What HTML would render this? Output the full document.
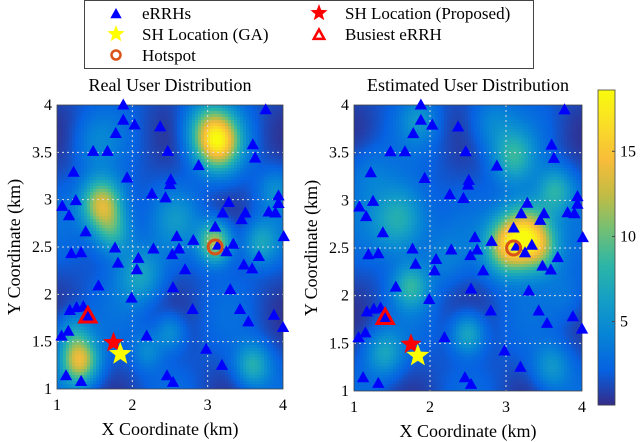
<!DOCTYPE html>
<html><head><meta charset="utf-8"><style>
body{margin:0;background:#fff;width:640px;height:442px;overflow:hidden;font-family:"Liberation Serif",serif}
svg{position:absolute;left:0;top:0}
</style></head><body>
<svg id="s" width="640" height="442" xmlns="http://www.w3.org/2000/svg"></svg>
<script>
// eRRH positions (km)
const rrhX=[1.88,1.88,2.03,2.37,1.78,3.77,1.48,1.67,2.47,3.6,3.63,2.88,1.22,1.93,2.51,2.5,2.26,2.44,3.94,1.07,1.25,3.28,3.94,1.16,3.2,3.5,3.81,3.9,3.45,3.1,1.38,2.59,2.81,4.01,3.14,3.34,1.77,2.28,2.62,2.53,3.25,1.19,1.32,1.81,2.08,2.06,2.7,3.48,3.59,3.68,1.55,2.54,3.3,1.99,1.17,1.26,1.35,1.41,2.8,3.43,3.54,3.88,4.0,1.06,1.15,2.19,2.98,3.19,2.46,2.54,1.12,1.32];
const rrhY=[4.0,3.84,3.79,3.77,3.7,3.95,3.51,3.51,3.51,3.58,3.44,3.36,3.29,3.23,3.21,3.16,3.06,3.02,3.04,2.93,2.99,2.97,2.96,2.83,2.86,2.86,2.87,2.86,2.79,2.71,2.66,2.61,2.57,2.61,2.52,2.53,2.49,2.48,2.48,2.42,2.45,2.43,2.44,2.33,2.38,2.26,2.26,2.31,2.27,2.4,2.09,2.07,2.05,1.96,1.83,1.86,1.87,1.77,1.84,1.84,1.71,1.78,1.65,1.56,1.61,1.56,1.42,1.25,1.14,1.07,1.14,1.08];
const propSH=[1.75,1.49], gaSH=[1.84,1.37], hotspot=[3.1,2.5], busiest=[1.41,1.77];
// heat blobs: x, y, amplitude, radius
const realBX=[3.15,3.0,1.6,1.75,3.1,1.3,3.6,2.1,3.7,2.6,2.5,1.2,2.2,3.9,1.5];
const realBY=[3.6,3.75,2.95,2.65,2.55,1.3,1.25,2.2,2.55,2.8,1.6,1.6,1.4,3.1,3.6];
const realBA=[12,6,12,6,11,12,6,5,5,3,4,4,3,3,2];
const realBR=[0.2,0.22,0.19,0.17,0.15,0.17,0.16,0.21,0.16,0.21,0.14,0.16,0.14,0.16,0.21];
const estBX=[3.25,3.0,3.45,1.6,1.75,2.5,1.4,3.65,3.1,3.6,1.85,2.8,1.2,2.2,3.8];
const estBY=[2.65,2.5,2.5,2.8,2.1,1.6,1.4,3.1,3.45,1.25,3.85,3.8,3.3,2.4,2.0];
const estBA=[13,9,6,7,6,6,5,6,6,4,3,3,2,2,2];
const estBR=[0.23,0.2,0.18,0.25,0.16,0.15,0.17,0.17,0.19,0.17,0.16,0.21,0.21,0.21,0.21];
const cbTicks=[5,10,15];
const vmin=0.1,vmax=18.6;

const NS="http://www.w3.org/2000/svg";
const svg=document.getElementById('s');
function mk(t,a,p){const e=document.createElementNS(NS,t);for(const k in a)e.setAttribute(k,a[k]);(p||svg).appendChild(e);return e;}
const parula=[[0.2081,0.1663,0.5292],[0.0244,0.3819,0.8850],[0.0236,0.5151,0.8397],[0.0791,0.6202,0.7750],[0.1717,0.7105,0.6541],[0.4420,0.7504,0.4637],[0.7556,0.7381,0.2700],[0.9718,0.7370,0.2271],[0.9763,0.8664,0.1543],[0.9763,0.9831,0.0538]];
function cmap(t){t=Math.max(0,Math.min(1,t))*(parula.length-1);const i=Math.min(parula.length-2,Math.floor(t)),f=t-i;const a=parula[i],b=parula[i+1];return 'rgb('+[0,1,2].map(k=>Math.round(255*(a[k]+(b[k]-a[k])*f))).join(',')+')';}
function tri(cx,cy,s){return `${cx},${cy-s} ${cx-s*0.95},${cy+s*0.7} ${cx+s*0.95},${cy+s*0.7}`;}
function star(cx,cy,R){let p=[];for(let i=0;i<10;i++){const r=i%2?R*0.42:R,a=-Math.PI/2+i*Math.PI/5;p.push((cx+r*Math.cos(a)).toFixed(1)+','+(cy+r*Math.sin(a)).toFixed(1));}return p.join(' ');}

function panel(name,L,R,T,B,bx,by,ba,br,title){
  const sx=v=>L+(v-1)/3*(R-L), sy=v=>B-(v-1)/3*(B-T);
  const g=mk('g',{});  
  const step=3, nx=Math.ceil((R-L)/step), ny=Math.ceil((B-T)/step);
  const hm=mk('g',{},g);  
  for(let j=0;j<ny;j++)for(let i=0;i<nx;i++){
    const X=1+(i+0.5)*step/(R-L)*3, Y=4-(j+0.5)*step/(B-T)*3;
    let v=1.7+1.3*Math.sin(X*4.1+0.7)*Math.cos(Y*3.3+0.4);
    for(let k=0;k<bx.length;k++){const d=((X-bx[k])**2+(Y-by[k])**2)/(2*br[k]*br[k]);v+=ba[k]*Math.exp(-d);}
    mk('rect',{x:L+i*step,y:T+j*step,width:Math.min(step+0.6,R-L-i*step),height:Math.min(step+0.6,B-T-j*step),fill:cmap((v-vmin)/(vmax-vmin))},hm);
  }
  for(let t=2;t<=3;t++){mk('line',{x1:sx(t),x2:sx(t),y1:T,y2:B,stroke:'#ddd','stroke-dasharray':'2,3','stroke-width':1},g);}
  for(let t=1.5;t<4;t+=0.5){mk('line',{x1:L,x2:R,y1:sy(t),y2:sy(t),stroke:'#ddd','stroke-dasharray':'2,3','stroke-width':1},g);}
  mk('rect',{x:L,y:T,width:R-L,height:B-T,fill:'none',stroke:'#444','stroke-width':0.8},g);
  for(let t=1;t<=4;t++){const x=sx(t);const e=mk('text',{x:x,y:B+21,'text-anchor':'middle','font-size':16},g);e.textContent=t;}
  for(let t=1;t<=4;t+=0.5){const e=mk('text',{x:L-5,y:sy(t)+5,'text-anchor':'end','font-size':16},g);e.textContent=t;}
  const xt=mk('text',{x:(L+R)/2,y:B+46,'text-anchor':'middle','font-size':18},g);xt.textContent='X Coordinate (km)';
  const yt=mk('text',{x:0,y:0,'text-anchor':'middle','font-size':18,transform:`translate(${L-37},${(T+B)/2}) rotate(-90)`},g);yt.textContent='Y Coordinate (km)';
  const tt=mk('text',{x:(L+R)/2,y:T-14,'text-anchor':'middle','font-size':18},g);tt.textContent=title;
  for(let k=0;k<rrhX.length;k++){const p=mk('polygon',{points:tri(sx(rrhX[k]),sy(rrhY[k]),6.5),fill:'#0000ff'},g);}
  let e=mk('polygon',{points:tri(sx(busiest[0]),sy(busiest[1]),8.5),fill:'none',stroke:'#ff0000','stroke-width':3},g);
  e=mk('circle',{cx:sx(hotspot[0]),cy:sy(hotspot[1]),r:7,fill:'none',stroke:'#d95319','stroke-width':3},g);
  e=mk('polygon',{points:star(sx(propSH[0]),sy(propSH[1]),11),fill:'#ff0000'},g);
  e=mk('polygon',{points:star(sx(gaSH[0]),sy(gaSH[1]),12),fill:'#ffff00'},g);
}
panel('real-distribution-panel',57,283,105,389,realBX,realBY,realBA,realBR,'Real User Distribution');
panel('estimated-distribution-panel',354,582,105,391,estBX,estBY,estBA,estBR,'Estimated User Distribution');

// colorbar
const cb=mk('g',{});
const cT=90,cB=405,cL=598,cR=615;
for(let y=cT;y<cB;y++){mk('rect',{x:cL,y:y,width:cR-cL,height:1.5,fill:cmap(1-(y-cT)/(cB-cT))},cb);}
mk('rect',{x:cL,y:cT,width:cR-cL,height:cB-cT,fill:'none',stroke:'#444','stroke-width':0.8},cb);
const cy=v=>cB-(v-vmin)/(vmax-vmin)*(cB-cT);
for(const t of cbTicks){mk('line',{x1:cR-3,x2:cR,y1:cy(t),y2:cy(t),stroke:'#444'},cb);const e=mk('text',{x:cR+5,y:cy(t)+5,'font-size':16},cb);e.textContent=t;}

// legend
const lg=mk('g',{});
mk('rect',{x:84.5,y:0.5,width:449,height:68,fill:'#fff',stroke:'#444','stroke-width':1},lg);
const items=[['eRRHs',116,13,'tri'],['SH Location (GA)',116,34,'ystar'],['Hotspot',116,55,'circ'],['SH Location (Proposed)',319,13,'rstar'],['Busiest eRRH',319,34,'rtri']];
for(const [lbl,x,y,m] of items){
  const it=mk('g',{},lg);
  if(m==='tri')mk('polygon',{points:tri(x,y+1,6),fill:'#0000ff'},it);
  if(m==='ystar')mk('polygon',{points:star(x,y,9),fill:'#ffff00'},it);
  if(m==='rstar')mk('polygon',{points:star(x,y,9),fill:'#ff0000'},it);
  if(m==='circ')mk('circle',{cx:x,cy:y,r:4.5,fill:'none',stroke:'#d95319','stroke-width':2.5},it);
  if(m==='rtri')mk('polygon',{points:tri(x,y+1,5.5),fill:'none',stroke:'#ff0000','stroke-width':2.5},it);
  const e=mk('text',{x:x+26,y:y+6,'font-size':17},it);e.textContent=lbl;
}
</script>
</body></html>
